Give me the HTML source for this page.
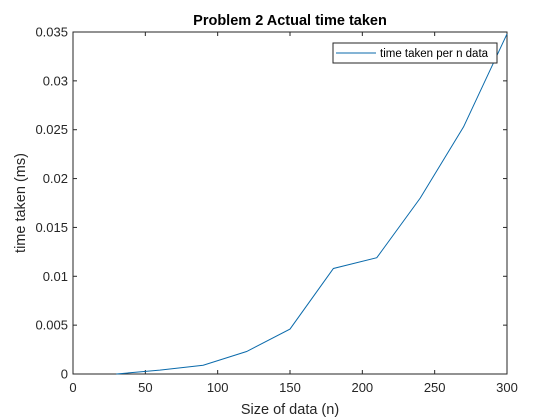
<!DOCTYPE html>
<html><head><meta charset="utf-8"><style>
body{margin:0;background:#fff;}
svg{display:block;font-family:"Liberation Sans",Arial,sans-serif;}
</style></head><body>
<svg id="chart" width="560" height="420">
<rect width="560" height="420" fill="#fff"/>
<text x="290" y="25" text-anchor="middle" font-size="14.5" font-weight="bold" fill="#000">Problem 2 Actual time taken</text>
<text x="290" y="414" text-anchor="middle" font-size="14.5" fill="#262626">Size of data (n)</text>
<text transform="translate(25,203) rotate(-90)" text-anchor="middle" font-size="14.5" fill="#262626">time taken (ms)</text>
<g id="axes"></g>
<g id="series"></g>
<g>
<rect x="333" y="43" width="164" height="20" fill="#fff" stroke="#262626" stroke-width="1"/>
<line x1="336" y1="53" x2="376" y2="53" stroke="#0a6aab" stroke-width="1"/>
<text x="380" y="57" font-size="11.5" fill="#000">time taken per n data</text>
</g>
</svg>
<script>
const xValues=[30,60,90,120,150,180,210,240,270,300];
const yValues=[0,0.0004,0.0009,0.0023,0.0046,0.0108,0.0119,0.018,0.0253,0.0348];
const xTicks=[0,50,100,150,200,250,300];
const yTicks=[0,0.005,0.01,0.015,0.02,0.025,0.03,0.035];
const yTickLabels=["0","0.005","0.01","0.015","0.02","0.025","0.03","0.035"];
const L=73,R=507,T=32,B=374;
const xs=v=>L+(v-0)/(300-0)*(R-L);
const ys=v=>B-(v-0)/(0.035-0)*(B-T);
const NS="http://www.w3.org/2000/svg";
const ax=document.getElementById('axes');
function mk(tag,attrs,parent){const e=document.createElementNS(NS,tag);for(const k in attrs)e.setAttribute(k,attrs[k]);parent.appendChild(e);return e;}
const box=mk('rect',{x:L,y:T,width:R-L,height:B-T,fill:'none',stroke:'#262626','stroke-width':1},ax);


xTicks.forEach(t=>{const x=xs(t);
mk('line',{x1:x,y1:B,x2:x,y2:B-4,stroke:'#262626'},ax);
mk('line',{x1:x,y1:T,x2:x,y2:T+4,stroke:'#262626'},ax);
const tx=mk('text',{x:x,y:B+18,'text-anchor':'middle','font-size':13,fill:'#262626'},ax);tx.textContent=t;


});
yTicks.forEach((t,i)=>{const y=ys(t);
mk('line',{x1:L,y1:y,x2:L+4,y2:y,stroke:'#262626'},ax);
mk('line',{x1:R,y1:y,x2:R-4,y2:y,stroke:'#262626'},ax);
const tx=mk('text',{x:L-5,y:y+4.5,'text-anchor':'end','font-size':13,fill:'#262626'},ax);tx.textContent=yTickLabels[i];


});
const pts=xValues.map((x,i)=>xs(x)+','+ys(yValues[i])).join(' ');
const pl=mk('polyline',{points:pts,fill:'none',stroke:'#0a6aab','stroke-width':1},document.getElementById('series'));


</script>
</body></html>
